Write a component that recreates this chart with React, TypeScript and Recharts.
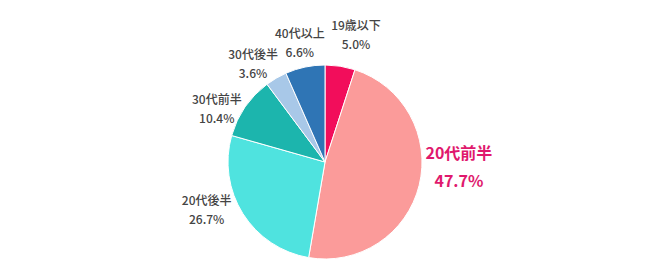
import { PieChart, Pie, Cell } from "recharts";

const labels = ["19歳以下", "20代前半", "20代後半", "30代前半", "30代後半", "40代以上"];
const values = [5.0, 47.7, 26.7, 10.4, 3.6, 6.6];
const colors = ["#f20d5b", "#fb9b9a", "#4fe3df", "#1cb5ad", "#a8c8e8", "#2f75b5"];

// label placement: angle (deg, counter-clockwise from 3 o'clock) and distance beyond the rim
const LABEL_ANGLE = [76.4, -1.7, -158.7, 153.4, 125.8, 101.8];
const LABEL_GAP = [35, 37, 30, 24, 26, 26];

const HIGHLIGHT = 1;

const data = labels.map((name, i) => ({ name, value: values[i] }));

const RAD = Math.PI / 180;

function renderLabel(props: any) {
  const { cx, cy, outerRadius, index } = props;
  const r = outerRadius + LABEL_GAP[index];
  const a = LABEL_ANGLE[index] * RAD;
  const x = cx + r * Math.cos(a);
  const y = cy - r * Math.sin(a);
  const hi = index === HIGHLIGHT;
  const half = hi ? 14 : 9.5;
  return (
    <text
      x={x}
      y={y}
      textAnchor="middle"
      dominantBaseline="central"
      fill={hi ? "#e0196d" : "#444"}
      fontSize={hi ? 16 : 12}
      fontWeight={hi ? 700 : 500}
      fontFamily="'Noto Sans CJK JP', 'Noto Sans', sans-serif"
    >
      <tspan x={x} y={y - half}>{labels[index]}</tspan>
      <tspan x={x} y={y + half}>{values[index].toFixed(1)}%</tspan>
    </text>
  );
}

export default function App() {
  return (
    <div style={{ position: "absolute", left: 0, top: 0, width: 650, height: 278, background: "#fff" }}>
      <PieChart width={650} height={278} margin={{ top: 0, right: 0, bottom: 0, left: 0 }}>
        <Pie
          data={data}
          dataKey="value"
          nameKey="name"
          cx={325}
          cy={162}
          outerRadius={97}
          startAngle={90}
          endAngle={-270}
          stroke="#fff"
          strokeWidth={1}
          label={renderLabel}
          labelLine={false}
          isAnimationActive={false}
        >
          {data.map((d, i) => (
            <Cell key={d.name} fill={colors[i]} />
          ))}
        </Pie>
      </PieChart>
    </div>
  );
}
